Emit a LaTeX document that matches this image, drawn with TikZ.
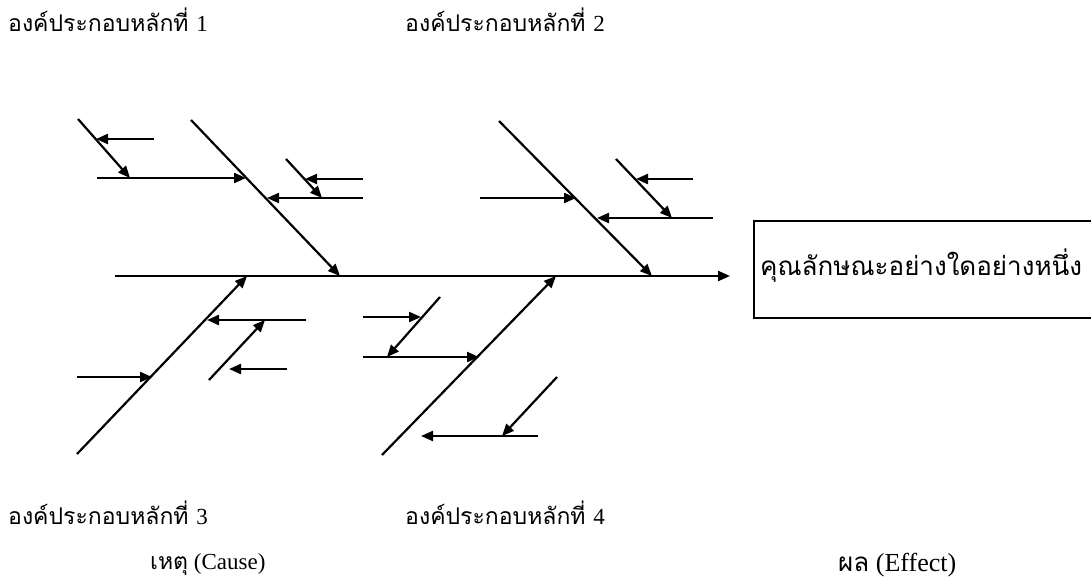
\documentclass[tikz,border=0pt]{standalone}
\usepackage{fontspec}
\setmainfont{Liberation Serif}
\newfontfamily\thai[Script=Thai]{Loma}
\usetikzlibrary{arrows.meta}
\begin{document}
\begin{tikzpicture}[x=1pt,y=-1pt,
  bone/.style={line width=2.2pt},
  cause/.style={bone,-{Triangle[length=12pt,width=10pt]}},
  caption/.style={anchor=west,inner sep=0pt,font=\fontsize{23}{26}\selectfont},
  effectlabel/.style={caption,font=\fontsize{26}{30}\selectfont},
  boxlabel/.style={anchor=west,inner sep=0pt,font=\fontsize{26}{30}\selectfont},
  resultbox/.style={draw,line width=1.8pt,anchor=north west,
    minimum width=380pt,minimum height=97pt,inner sep=0pt}]
\useasboundingbox (0,0) rectangle (1091,583);
\clip (0,0) rectangle (1091,583);

% headings of the four main factors
\node[caption] (f1) at (8,20)   {\thai องค์ประกอบหลักที่ \rmfamily 1};
\node[caption] (f2) at (405,20) {\thai องค์ประกอบหลักที่ \rmfamily 2};
\node[caption] (f3) at (8,513)  {\thai องค์ประกอบหลักที่ \rmfamily 3};
\node[caption] (f4) at (405,513){\thai องค์ประกอบหลักที่ \rmfamily 4};
\node[caption] (cause) at (150,565) {{\thai เหตุ} (Cause)};
\node[effectlabel] (effect) at (838,565) {{\thai ผล} (Effect)};

% effect box
\node[resultbox] (box) at (753,220) {};
\node[boxlabel] (boxtext) at (760,266) {\thai คุณลักษณะอย่างใดอย่างหนึ่ง};

% spine
\coordinate (s0) at (115,276);
\coordinate (s1) at (730,276);
\draw[cause] (s0) -- (s1);

% ---- main factor 1 ----
\coordinate (b1s) at (191,120);  \coordinate (b1e) at (340,276);
\draw[cause] (b1s) -- (b1e);
\coordinate (as) at (78,119);    \coordinate (ae) at (130,178);
\draw[cause] (as) -- (ae);
\coordinate (h1s) at (97,178);   \coordinate (h1e) at (246,178);
\draw[cause] (h1s) -- (h1e);
\coordinate (a1s) at (154,139);  \coordinate (a1e) at (96,139);
\draw[cause] (a1s) -- (a1e);
\coordinate (bs) at (286,159);   \coordinate (be) at (322,198);
\draw[cause] (bs) -- (be);
\coordinate (b0s) at (363,179);  \coordinate (b0e) at (305,179);
\draw[cause] (b0s) -- (b0e);
\coordinate (h2s) at (363,198);  \coordinate (h2e) at (267,198);
\draw[cause] (h2s) -- (h2e);

% ---- main factor 2 ----
\coordinate (b2s) at (499,121);  \coordinate (b2e) at (652,276);
\draw[cause] (b2s) -- (b2e);
\coordinate (h3s) at (480,198);  \coordinate (h3e) at (576,198);
\draw[cause] (h3s) -- (h3e);
\coordinate (es) at (616,159);   \coordinate (ee) at (672,218);
\draw[cause] (es) -- (ee);
\coordinate (e0s) at (693,179);  \coordinate (e0e) at (636,179);
\draw[cause] (e0s) -- (e0e);
\coordinate (h4s) at (713,218);  \coordinate (h4e) at (597,218);
\draw[cause] (h4s) -- (h4e);

% ---- main factor 3 ----
\coordinate (b3s) at (77,454);   \coordinate (b3e) at (247,276);
\draw[cause] (b3s) -- (b3e);
\coordinate (h5s) at (77,377);   \coordinate (h5e) at (152,377);
\draw[cause] (h5s) -- (h5e);
\coordinate (h6s) at (306,320);  \coordinate (h6e) at (207,320);
\draw[cause] (h6s) -- (h6e);
\coordinate (ds) at (209,380);   \coordinate (de) at (265,320);
\draw[cause] (ds) -- (de);
\coordinate (d0s) at (287,369);  \coordinate (d0e) at (229,369);
\draw[cause] (d0s) -- (d0e);

% ---- main factor 4 ----
\coordinate (b4s) at (382,455);  \coordinate (b4e) at (556,276);
\draw[cause] (b4s) -- (b4e);
\coordinate (fs) at (440,297);   \coordinate (fe) at (387,357);
\draw[cause] (fs) -- (fe);
\coordinate (f0s) at (363,317);  \coordinate (f0e) at (421,317);
\draw[cause] (f0s) -- (f0e);
\coordinate (h7s) at (363,357);  \coordinate (h7e) at (479,357);
\draw[cause] (h7s) -- (h7e);
\coordinate (gs) at (557,377);   \coordinate (ge) at (502,436);
\draw[cause] (gs) -- (ge);
\coordinate (h8s) at (538,436);  \coordinate (h8e) at (421,436);
\draw[cause] (h8s) -- (h8e);
\end{tikzpicture}
\end{document}
